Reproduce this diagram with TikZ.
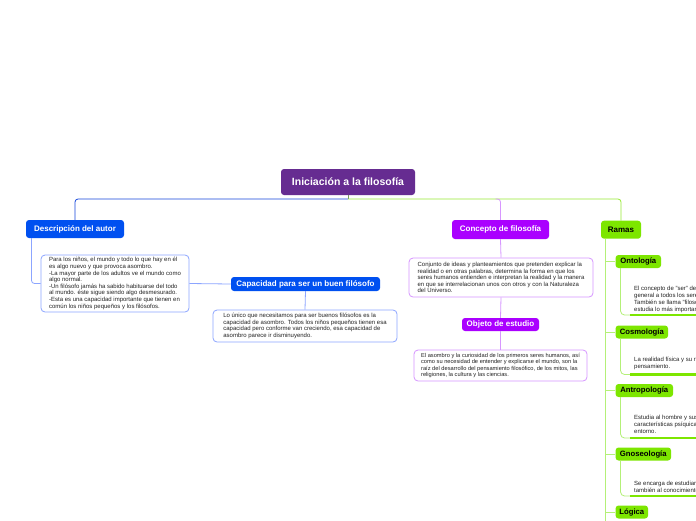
\documentclass[tikz,border=0pt]{standalone}
\usepackage{fontspec}
\setmainfont{Liberation Sans}
\definecolor{titlecol}{RGB}{102,44,145}
\definecolor{blueN}{RGB}{0,80,240}
\definecolor{blueLine}{RGB}{20,70,220}
\definecolor{blueLight}{RGB}{140,165,255}
\definecolor{violetN}{RGB}{170,0,255}
\definecolor{violetLight}{RGB}{215,150,255}
\definecolor{greenN}{RGB}{125,230,0}
\definecolor{greenLight}{RGB}{180,240,120}
\definecolor{stubcol}{RGB}{120,150,100}
\definecolor{textgray}{RGB}{35,35,35}
\begin{document}
\begin{tikzpicture}[x=1pt,y=-1pt,
  lbl/.style={rectangle, rounded corners=3pt, inner sep=0pt, text=white,
    font=\bfseries\fontsize{8}{9.6}\selectfont},
  sublbl/.style={rectangle, rounded corners=3pt, inner sep=0pt, fill=greenN, text=black,
    font=\bfseries\fontsize{7.7}{9}\selectfont},
  txtbox/.style={rectangle, rounded corners=4pt, draw, line width=0.8pt, fill=white,
    inner sep=0pt, text=textgray, align=left,
    font=\fontsize{6}{6.6}\selectfont},
  subtxt/.style={inner sep=0pt, text=textgray, align=left, anchor=west,
    font=\fontsize{6}{7}\selectfont},
  conn/.style={line width=0.8pt, rounded corners=3pt},
  barline/.style={line width=2.6pt, greenN}
]
\clip (0,0) rectangle (696,520);
\fill[white] (0,0) rectangle (696,520);

% nodes
\node[lbl, fill=titlecol, minimum width=134pt, minimum height=26pt,
  font=\bfseries\fontsize{10.5}{12}\selectfont] (title) at (348,182) {Iniciación a la filosofía};
\node[lbl, fill=blueN, minimum width=98pt, minimum height=18pt] (desc) at (75,229) {Descripción del autor};
\node[txtbox, draw=blueLight, minimum width=148pt, minimum height=57pt] (desctext) at (115,283.5)
 {Para los niños, el mundo y todo lo que hay en él\\
  es algo nuevo y que provoca asombro.\\
  -La mayor parte de los adultos ve el mundo como\\
  algo normal.\\
  -Un filósofo jamás ha sabido habituarse del todo\\
  al mundo. éste sigue siendo algo desmesurado.\\
  -Esta es una capacidad importante que tienen en\\
  común los niños pequeños y los filósofos.};
\node[lbl, fill=blueN, minimum width=149pt, minimum height=14pt] (cap) at (305.5,284) {Capacidad para ser un buen filósofo};
\node[txtbox, draw=blueLight, minimum width=184pt, minimum height=32pt] (captext) at (305,326)
 {Lo único que necesitamos para ser buenos filósofos es la\\
  capacidad de asombro. Todos los niños pequeños tienen esa\\
  capacidad pero conforme van creciendo, esa capacidad de\\
  asombro parece ir disminuyendo.};
\node[lbl, fill=violetN, minimum width=97pt, minimum height=19pt] (conc) at (500.5,229.5) {Concepto de filosofía};
\node[txtbox, draw=violetLight, minimum width=184pt, minimum height=39pt] (conctext) at (501,277.5)
 {Conjunto de ideas y planteamientos que pretenden explicar la\\
  realidad o en otras palabras, determina la forma en que los\\
  seres humanos entienden e interpretan la realidad y la manera\\
  en que se interrelacionan unos con otros y con la Naturaleza\\
  del Universo.};
\node[lbl, fill=violetN, minimum width=77pt, minimum height=13pt] (obj) at (500.5,324.5) {Objeto de estudio};
\node[txtbox, draw=violetLight, minimum width=173pt, minimum height=31pt,
  font=\fontsize{5.7}{6.6}\selectfont] (objtext) at (500.5,365.5)
 {El asombro y la curiosidad de los primeros seres humanos, así\\
  como su necesidad de entender y explicarse el mundo, son la\\
  raíz del desarrollo del pensamiento filosófico, de los mitos, las\\
  religiones, la cultura y las ciencias.};
\node[lbl, fill=greenN, text=black, minimum width=40pt, minimum height=18pt] (ramas) at (621,229.7) {Ramas};

\node[sublbl, minimum width=45.5pt, minimum height=13pt] (onto) at (638.3,261.5) {Ontología};
\node[sublbl, minimum width=52.5pt, minimum height=13pt] (cosmo) at (641.8,332) {Cosmología};
\node[sublbl, minimum width=57.5pt, minimum height=13pt] (antro) at (644.3,390.5) {Antropología};
\node[sublbl, minimum width=55.5pt, minimum height=13pt] (gnoseo) at (643.3,454) {Gnoseología};
\node[sublbl, minimum width=32.5pt, minimum height=13pt] (logica) at (631.8,512) {Lógica};

\node[subtxt] (ontotext) at (634,299.5)
 {El concepto de "ser" de manera\\
  general a todos los seres existentes.\\
  También se llama "filosofía primera" porque\\
  estudia lo más importante.};
\node[subtxt] (cosmotext) at (634,363.5)
 {La realidad física y su relación con el\\
  pensamiento.};
\node[subtxt] (antrotext) at (634,424)
 {Estudia al hombre y sus\\
  características psíquicas y su\\
  entorno.};
\node[subtxt] (gnoseotext) at (634,486.5)
 {Se encarga de estudiar el origen y\\
  también al conocimiento.};

% coordinates
\coordinate (hub) at (348,199);
\coordinate (spineEnd) at (605,530);
\coordinate (ontobar) at (630,315);
\coordinate (ontobarE) at (700,315);
\coordinate (cosmobar) at (630,374.5);
\coordinate (cosmobarE) at (700,374.5);
\coordinate (antrobar) at (630,438);
\coordinate (antrobarE) at (700,438);
\coordinate (gnoseobar) at (630,496);
\coordinate (gnoseobarE) at (700,496);

% connectors
\draw[conn, stubcol] (title.south) -- (hub);
\draw[conn, blueLine] (hub) -| (desc.north);
\draw[conn, greenN!80!white] (hub) -| (ramas.north);
\draw[conn, violetLight] (conc.north) |- ([xshift=-5pt]conc.north |- hub);
\draw[conn, blueLight] ([xshift=5.7pt]desc.south west) |- (desctext.west);
\draw[conn, blueLight] (desctext.east) -- (cap.west);
\draw[conn, blueLight] (cap.south) -- (captext.north);
\draw[conn, violetLight] (conc.south) -- (conctext.north);
\draw[conn, violetLight] (conctext.south) -- (obj.north);
\draw[conn, violetLight] (obj.south) -- (objtext.north);

\coordinate (spineTop) at ([xshift=4.3pt]ramas.south west);
\draw[conn, greenLight] (spineTop) -- (spineTop |- spineEnd);
\foreach \n in {onto,cosmo,antro,gnoseo,logica}{
  \draw[conn, greenLight] (spineTop |- \n.west) -- (\n.west);
}
\foreach \n in {onto,cosmo,antro,gnoseo}{
  \draw[conn, greenLight, rounded corners=4pt] ([xshift=5.2pt]\n.south west) |- (\n bar);
  \draw[barline] (\n bar) -- (\n barE);
}
\end{tikzpicture}
\end{document}
